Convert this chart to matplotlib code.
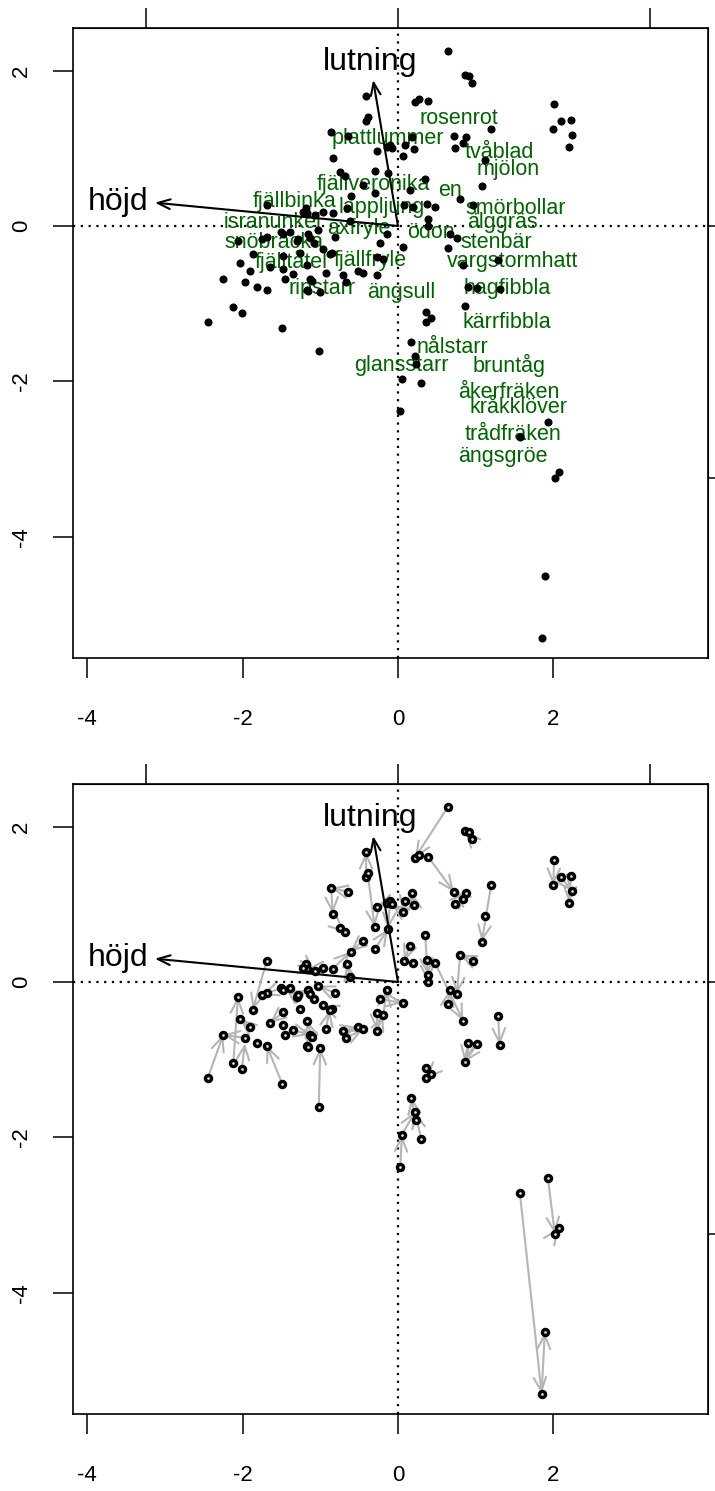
import matplotlib.pyplot as plt

plt.rcParams['font.family'] = ['Liberation Sans', 'DejaVu Sans']
plt.rcParams['axes.unicode_minus'] = False

# site scores (both surveys)
site_x = [0.64, 0.86, 0.91, 0.95, -0.41, 0.22, 0.27, 0.39, -0.41, -0.39, 1.20, -0.86, 0.72, 0.88,
          -0.14, -0.10, -0.08, -0.27, 0.09, 0.21, 0.73, 0.84, 0.06, -0.84, 1.12, -0.75, -0.68, -0.30,
          -0.13, 0.35, 1.08, -0.45, -0.30, 0.15, 0.80, -0.61, -1.18, -1.17, -0.97, -0.84, -1.07, 0.08,
          0.37, 0.48, 0.97, 0.39, -1.69, -1.51, -1.48, -1.16, -1.13, -1.03, -0.81, -0.14, -0.23, 0.39,
          0.67, 0.76, -1.69, -1.30, -1.08, 0.06, 0.64, -1.87, -1.26, -1.17, -0.85, -2.03, -1.91, -1.65,
          -0.93, -0.71, -0.52, -0.45, -0.27, -2.25, -1.97, -1.82, -1.69, -1.45, -1.13, -0.67, -1.17,
          -1.00, -2.12, -2.01, -2.45, -1.49, -1.02, 0.36, 0.42, 0.36, 0.86, 0.17, 0.22, 0.23, 0.05,
          0.30, 0.03, 1.93, 1.57, 2.07, 2.02, 1.89, 1.85, 0.90, 1.02, 1.31, 2.01, 2.10, 2.23, 2.00,
          2.24, 2.20, 1.29, 0.84, -0.64, -0.66, -0.62, -1.75, -2.06, -1.22, -1.39, -1.29, -0.97,
          -0.88, -1.48, -1.48, -1.35, -1.16, -1.11, -0.27, -0.19, 0.19, 0.18]
site_y = [2.25, 1.94, 1.93, 1.84, 1.67, 1.60, 1.64, 1.61, 1.35, 1.40, 1.25, 1.21, 1.16, 1.15,
          1.02, 1.04, 1.00, 0.97, 1.04, 0.99, 1.00, 1.07, 0.90, 0.88, 0.85, 0.70, 0.64, 0.71,
          0.68, 0.61, 0.52, 0.53, 0.42, 0.46, 0.35, 0.39, 0.23, 0.17, 0.18, 0.17, 0.14, 0.27,
          0.28, 0.24, 0.27, 0.09, 0.27, -0.08, -0.10, -0.10, -0.15, -0.05, -0.14, -0.10, -0.22, 0.00,
          -0.10, -0.15, -0.14, -0.19, -0.22, -0.27, -0.28, -0.36, -0.35, -0.50, -0.35, -0.48, -0.58, -0.53,
          -0.61, -0.63, -0.58, -0.61, -0.63, -0.68, -0.72, -0.79, -0.82, -0.68, -0.68, -0.72, -0.82,
          -0.85, -1.04, -1.12, -1.24, -1.31, -1.61, -1.11, -1.18, -1.24, -1.03, -1.49, -1.67, -1.78, -1.97,
          -2.02, -2.38, -2.52, -2.72, -3.17, -3.24, -4.51, -5.30, -0.79, -0.80, -0.81, 1.57, 1.35, 1.36, 1.25,
          1.17, 1.02, -0.44, -0.50, 1.16, 0.23, 0.06, -0.17, -0.19, 0.18, -0.08, -0.17, -0.30,
          -0.36, -0.39, -0.55, -0.62, -0.84, -0.71, -0.40, -0.42, 0.24, 1.15]

# shift arrows between surveys (start -> end)
shift_x0 = [0.64, 0.39, 0.95, 1.20, 2.01, 2.23, 2.10, 0.35, 0.15, 0.80, 0.97, 0.48, 1.29, 0.90,
            0.42, 0.23, 0.05, 0.03, 1.57, 1.85, 1.93, 2.02, -0.86, -0.41, -1.69, -2.45, -2.01,
            -1.49, -1.02, -0.30, -0.75, -1.18, -1.51, -1.30, -0.93, -0.71, -1.97, -1.13, -0.45,
            -0.27, 0.06, -0.64, -2.12, -1.48, -1.22, -0.97, -0.81, -1.29, -0.85, -1.35, -1.11,
            -0.67, -0.62, -0.84, -0.14, -0.39, -0.10, 0.09, 0.21, 0.73, 0.84, 0.37, 0.64, 0.30,
            1.02, -0.19, -0.23, -0.27, -1.91]
shift_y0 = [2.25, 1.61, 1.84, 1.25, 1.57, 1.36, 1.35, 0.61, 0.46, 0.35, 0.27, 0.24, -0.44, -0.79,
            -1.18, -1.78, -1.97, -2.38, -2.72, -5.30, -2.52, -3.24, 1.21, 1.35, 0.27, -1.24, -1.12,
            -1.31, -1.61, 0.42, 0.70, 0.23, -0.08, -0.19, -0.61, -0.63, -0.72, -0.68, 0.53,
            -0.63, 0.90, 1.16, -1.04, -0.39, 0.18, 0.18, -0.14, -0.17, -0.35, -0.62, -0.71,
            -0.72, 0.06, 0.17, 1.02, 1.40, 1.04, 1.04, 0.99, 1.00, 1.07, 0.28, -0.28, -2.02,
            -0.80, -0.42, -0.22, -0.40, -0.58]
shift_x1 = [0.22, 0.72, 0.86, 1.08, 2.00, 2.20, 2.24, 0.39, 0.08, 0.76, 0.80, 0.84, 1.31, 0.86,
            0.36, 0.17, 0.22, 0.05, 1.85, 1.89, 2.02, 2.07, -0.84, -0.41, -1.87, -2.25, -1.97,
            -1.69, -1.00, -0.13, -0.68, -1.07, -1.75, -1.45, -0.88, -0.52, -2.25, -1.16, -0.61,
            -0.19, -0.08, -0.86, -2.06, -1.65, -1.07, -1.17, -1.03, -1.16, -0.97, -1.13, -1.17,
            -0.45, -0.66, -0.61, -0.27, -0.30, -0.13, 0.06, 0.18, 0.88, 0.72, 0.39, 0.67, 0.22,
            0.86, -0.14, 0.06, -0.27, -2.03]
shift_y1 = [1.60, 1.16, 1.94, 0.52, 1.25, 1.02, 1.17, 0.00, 0.27, -0.15, 0.35, -0.50, -0.81, -1.03,
            -1.24, -1.49, -1.67, -1.97, -5.30, -4.51, -3.24, -3.17, 0.88, 1.67, -0.36, -0.68, -0.79,
            -0.82, -0.85, 0.68, 0.64, 0.14, -0.17, -0.08, -0.36, -0.58, -0.68, -0.84, 0.39,
            -0.42, 1.00, 1.21, -0.19, -0.53, 0.14, 0.17, -0.05, -0.10, -0.30, -0.68, -0.50,
            -0.61, 0.23, 0.39, 0.97, 0.71, 0.68, 0.90, 1.15, 1.15, 1.16, 0.09, -0.10, -1.67,
            -1.03, -0.10, -0.27, -0.63, -0.48]

spec_names = ['rosenrot', 'plattlummer', 'tvåblad', 'mjölon', 'fjällveronika', 'en', 'smörbollar',
              'fjällbinka', 'lappljung', 'isranunkel', 'axfryle', 'älggräs', 'ödon', 'snöbräcka',
              'stenbär', 'fjälltåtel', 'fjällfryle', 'vargstormhatt', 'ripstarr', 'ängsull',
              'hagfibbla', 'kärrfibbla', 'nålstarr', 'glansstarr', 'bruntåg', 'åkerfräken',
              'kråkklöver', 'trådfräken', 'ängsgröe']
spec_x = [0.79, -0.13, 1.31, 1.42, -0.32, 0.67, 1.52, -1.33, -0.21, -1.62, -0.50, 1.34, 0.42, -1.60,
          1.26, -1.38, -0.36, 1.47, -0.98, 0.04, 1.40, 1.40, 0.70, 0.04, 1.43, 1.43, 1.55, 1.48, 1.35]
spec_y = [1.39, 1.13, 0.94, 0.73, 0.53, 0.46, 0.23, 0.31, 0.24, 0.05, -0.03, 0.04, -0.09, -0.21,
          -0.21, -0.46, -0.44, -0.46, -0.80, -0.86, -0.80, -1.24, -1.56, -1.79, -1.79, -2.15,
          -2.34, -2.69, -2.97]

env_names = ['lutning', 'höjd']
env_x = [-0.32, -3.13]
env_y = [1.88, 0.30]
env_lab_x = [-0.36, -3.60]
env_lab_y = [2.11, 0.31]

xticks = [-4, -2, 0, 2]
yticks = [-4, -2, 0, 2]

W, H = 715, 1491
fig = plt.figure(figsize=(W / 100, H / 100), dpi=100)


def base_axes(top_px):
    ax = fig.add_axes([73 / W, 1 - (top_px + 630) / H, 635 / W, 630 / H])
    ax.set_xlim(-4.184, 3.992)
    ax.set_ylim(-5.562, 2.549)
    ax.set_xticks(xticks)
    ax.set_yticks(yticks)
    ax.tick_params(direction='out', length=14.4, width=1.1, labelsize=16)
    ax.tick_params(axis='x', pad=22)
    ax.tick_params(axis='y', pad=15, labelrotation=90)
    for lab in ax.get_yticklabels():
        lab.set_va('center')
    for s in ax.spines.values():
        s.set_linewidth(1.2)
    sx = ax.secondary_xaxis('top', functions=(lambda v: v / 3.245, lambda v: v * 3.245))
    sx.set_xticks([-1, 0, 1])
    sx.set_xticklabels([])
    sx.tick_params(direction='out', length=14.4, width=1.1)
    sy = ax.secondary_yaxis('right', functions=(lambda v: v / 3.245, lambda v: v * 3.245))
    sy.set_yticks([-1, 0])
    sy.set_yticklabels([])
    sy.tick_params(direction='out', length=14.4, width=1.1)
    ax.axhline(0, color='black', lw=1.6, ls=(0, (1, 2.5)), zorder=1)
    ax.axvline(0, color='black', lw=1.6, ls=(0, (1, 2.5)), zorder=1)
    for name, ex, ey, lx, ly in zip(env_names, env_x, env_y, env_lab_x, env_lab_y):
        ax.annotate('', xy=(ex, ey), xytext=(0, 0),
                    arrowprops=dict(arrowstyle='->,head_length=0.9,head_width=0.35',
                                    color='black', lw=1.5, shrinkA=0, shrinkB=0), zorder=5)
        ax.text(lx, ly, name, fontsize=23, ha='center', va='center', color='black', zorder=6)
    return ax


# top: sites and species
ax1 = base_axes(28)
for name, x, y in zip(spec_names, spec_x, spec_y):
    ax1.text(x, y, name, fontsize=15.5, color='#006400', ha='center', va='center', zorder=3)
ax1.plot(site_x, site_y, 'o', ms=4.8, color='black', zorder=4)

# bottom: sites with shift arrows
ax2 = base_axes(784)
for x0, y0, x1, y1 in zip(shift_x0, shift_y0, shift_x1, shift_y1):
    ax2.annotate('', xy=(x1, y1), xytext=(x0, y0),
                 arrowprops=dict(arrowstyle='->,head_length=1.0,head_width=0.45',
                                 color='#b5b5b5', lw=1.5, shrinkA=0, shrinkB=0), zorder=3)
ax2.plot(site_x, site_y, 'o', ms=4.4, mfc='#dddddd', mec='black', mew=2.4, zorder=4)

fig.savefig('out.png', dpi=100)
